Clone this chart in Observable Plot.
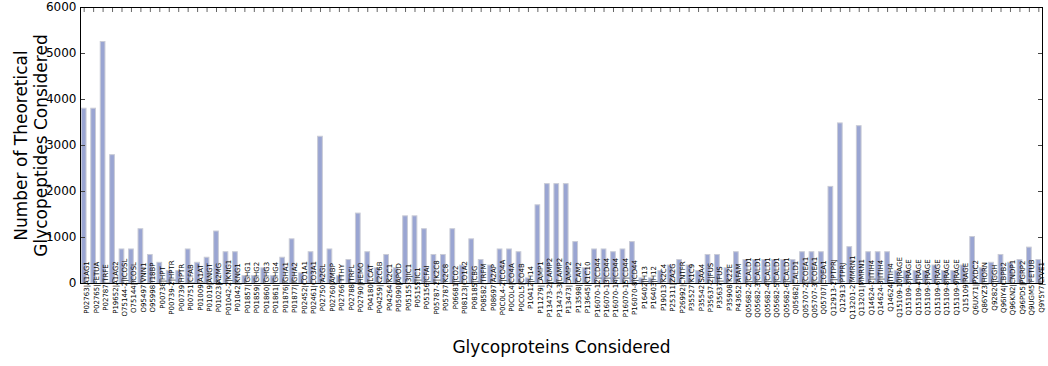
<!DOCTYPE html>
<html>
<head>
<meta charset="utf-8">
<script src="https://cdn.jsdelivr.net/npm/d3@7"></script>
<script src="https://cdn.jsdelivr.net/npm/@observablehq/plot@0.6"></script>
<style>
  body { margin: 0; background: #fff; }
</style>
</head>
<body>
<div id="chart"></div>
<script>
// Glycoproteins (UniProt accession | entry name)
const proteins = [
  "P02763|A1AG1", "P02765|FETUA", "P02787|TRFE", "P19652|A1AG2", "O75144-2|ICOSL",
  "O75144|ICOSL", "O95497|VNN1", "O95998|I18BP", "P00738|HPT", "P00739-2|HPTR",
  "P00739|HPTR", "P00751|CFAB", "P01009|A1AT", "P01019|ANGT", "P01023|A2MG",
  "P01042-2|KNG1", "P01042|KNG1", "P01857|IGHG1", "P01859|IGHG2", "P01860|IGHG3",
  "P01861|IGHG4", "P01876|IGHA1", "P01877|IGHA2", "P02452|CO1A1", "P02461|CO3A1",
  "P02750|A2GL", "P02760|AMBP", "P02766|TTHY", "P02788|TRFL", "P02790|HEMO",
  "P04180|LCAT", "P04259|K2C6B", "P04264|K2C1", "P05090|APOD", "P05155-3|IC1",
  "P05155|IC1", "P05156|CFAI", "P05787-2|K2C8", "P05787|K2C8", "P06681|CO2",
  "P08123|CO1A2", "P08185|CBG", "P08582|TRFM", "P08697|A2AP", "P0C0L4-2|CO4A",
  "P0C0L4|CO4A", "P0C0L5|CO4B", "P10412|H14", "P11279|LAMP1", "P13473-2|LAMP2",
  "P13473-3|LAMP2", "P13473|LAMP2", "P13598|ICAM2", "P13645|K1C10", "P16070-12|CD44",
  "P16070-13|CD44", "P16070-14|CD44", "P16070-15|CD44", "P16070-8|CD44", "P16402|H13",
  "P16403|H12", "P19013|K2C4", "P25311|ZA2G", "P26992|CNTFR", "P35527|K1C9",
  "P35542|SAA4", "P35637-2|FUS", "P35637|FUS", "P35908|K22E", "P43652|AFAM",
  "Q05682-2|CALD1", "Q05682-3|CALD1", "Q05682-4|CALD1", "Q05682-5|CALD1", "Q05682-6|CALD1",
  "Q05682|CALD1", "Q05707-2|COEA1", "Q05707-3|COEA1", "Q05707|COEA1", "Q12913-2|PTPRJ",
  "Q12913|PTPRJ", "Q13201-2|MMRN1", "Q13201|MMRN1", "Q14624-2|ITIH4", "Q14624-3|ITIH4",
  "Q14624|ITIH4", "Q15109-10|RAGE", "Q15109-3|RAGE", "Q15109-4|RAGE", "Q15109-5|RAGE",
  "Q15109-6|RAGE", "Q15109-8|RAGE", "Q15109-9|RAGE", "Q15109|RAGE", "Q6UX71|PXDC2",
  "Q86YZ3|HORN", "Q92820|GGH", "Q96IY4|CBPB2", "Q96KN2|CNDP1", "Q96PD5|PGRP2",
  "Q9UGM5|FETUB", "Q9Y5Y7|LYVE1"
];

// Number of theoretical glycopeptides for each glycoprotein
const peptideCounts = [
  3800, 3800, 5250, 2790, 740,
  740, 1180, 620, 450, 270,
  270, 740, 450, 560, 1130,
  680, 680, 160, 160, 330,
  160, 560, 960, 220, 680,
  3190, 740, 160, 510, 1520,
  680, 330, 620, 330, 1460,
  1460, 1180, 620, 620, 1180,
  390, 960, 510, 390, 740,
  740, 680, 110, 1700, 2160,
  2160, 2160, 900, 330, 740,
  740, 680, 740, 900, 110,
  110, 270, 390, 510, 390,
  270, 620, 620, 330, 680,
  510, 510, 510, 510, 510,
  510, 680, 680, 680, 2100,
  3480, 790, 3420, 680, 680,
  680, 270, 270, 270, 270,
  390, 270, 270, 390, 1010,
  330, 450, 620, 450, 510,
  780, 510
];

const yTicks = [0, 1000, 2000, 3000, 4000, 5000, 6000];

const rows = proteins.map((protein, i) => ({protein, count: peptideCounts[i]}));
const noLabel = () => "";

const chart = Plot.plot({
  width: 1048,
  height: 366,
  marginLeft: 80,
  marginRight: 6,
  marginTop: 7,
  marginBottom: 83,
  style: {fontFamily: "'DejaVu Sans', sans-serif", background: "#fff", color: "#000"},
  x: {domain: proteins, paddingInner: 0.5, paddingOuter: 0.14, label: null},
  y: {domain: [0, 6000], label: null},
  marks: [
    Plot.barY(rows, {x: "protein", y: "count", fill: "#9aa5d2", stroke: "#c9cbd6", strokeWidth: 1}),
    // tick labels
    Plot.axisY(yTicks, {anchor: "left", tickSize: 0, tickPadding: 4, fontSize: 12, label: null, tickFormat: d => String(d)}),
    Plot.axisX({anchor: "bottom", tickSize: 0, tickPadding: 4, rotate: -90, fontSize: 7, label: null}),
    // inward ticks on all four sides
    Plot.axisY(yTicks, {anchor: "left", tickSize: -5, tickFormat: noLabel, label: null, stroke: "#444"}),
    Plot.axisY(yTicks, {anchor: "right", tickSize: -5, tickFormat: noLabel, label: null, stroke: "#444"}),
    Plot.axisX({anchor: "bottom", tickSize: -4, tickFormat: noLabel, label: null, stroke: "#666"}),
    Plot.axisX({anchor: "top", tickSize: -4, tickFormat: noLabel, label: null, stroke: "#666"}),
    Plot.frame({stroke: "#000"}),
    // axis titles
    Plot.text(["Glycoproteins Considered"], {frameAnchor: "bottom", dy: 69, fontSize: 17, textAnchor: "middle"}),
    Plot.text(["Number of Theoretical"], {frameAnchor: "left", dx: -59, rotate: -90, fontSize: 17, textAnchor: "middle"}),
    Plot.text(["Glycopeptides Considered"], {frameAnchor: "left", dx: -39, rotate: -90, fontSize: 17, textAnchor: "middle"})
  ]
});

document.getElementById("chart").appendChild(chart);
</script>
</body>
</html>
